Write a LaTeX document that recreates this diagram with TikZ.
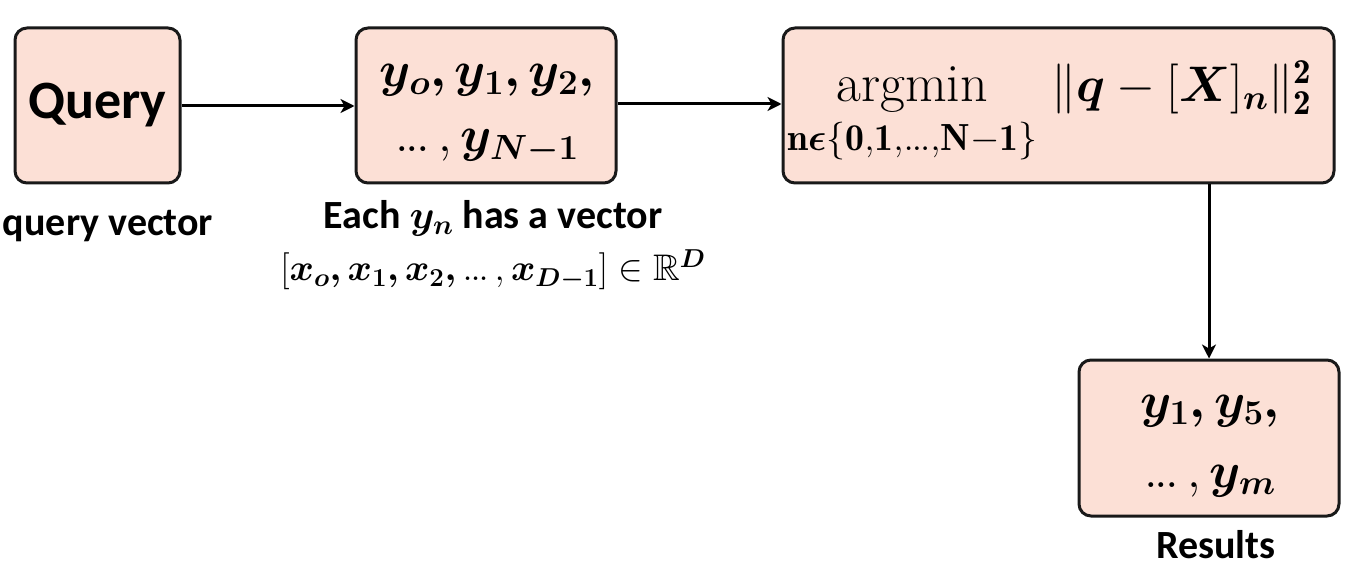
\RequirePackage{fix-cm}
\documentclass[tikz,border=0pt]{standalone}
\usepackage{amsmath,amssymb,bm}
\DeclareFontFamily{U}{msb}{}
\DeclareFontShape{U}{msb}{m}{n}{<->msbm10}{}
\usepackage{fontspec}
\newfontfamily\carl{Carlito}
\usetikzlibrary{arrows.meta}
\definecolor{boxfill}{RGB}{252,224,214}
\newcommand{\dts}{\mathinner{.\mkern-1mu.\mkern-1mu.}}
\tikzset{
  box/.style={draw=black!90, line width=3pt, rounded corners=12pt, fill=boxfill, inner sep=0pt, align=center},
  conn/.style={line width=3pt, -{Stealth[length=14pt,width=14pt,inset=4pt]}},
  lbl/.style={inner sep=0pt, align=center, font=\carl\bfseries\fontsize{40}{48}\selectfont}
}
\begin{document}
\begin{tikzpicture}[x=1pt,y=-1pt]
\useasboundingbox (0,0) rectangle (1353,575);
\node[box, minimum width=165pt, minimum height=155pt] (q) at (97.5,105.5)
  {\carl\bfseries\fontsize{54}{60}\selectfont Query};
\node[box, minimum width=260pt, minimum height=155pt] (y) at (486,105.5) {};
\node[inner sep=0pt, anchor=base, font=\fontsize{50}{60}\selectfont] (y1) at (487,87)
  {$\bm{y_o, y_1, y_2,}$};
\node[inner sep=0pt, anchor=base, font=\fontsize{50}{60}\selectfont] (y2) at (487,152)
  {$\dts,\bm{y_{N-1}}$};
\node[box, minimum width=551pt, minimum height=155pt] (a) at (1058.5,105.5) {};
\node[inner sep=0pt, anchor=base west, font=\fontsize{54}{60}\selectfont] (f) at (787,102)
  {$\displaystyle\operatorname*{argmin}_{\mathbf{n\bm{\epsilon}\{0,1,\dts,N-1\}}}$};
\node[inner sep=0pt, anchor=base west, font=\fontsize{50}{60}\selectfont] (g) at (f.base east)
  {$\;\|\bm{q}-[\bm{X}]_{\bm{n}}\|_{\mathbf{2}}^{\mathbf{2}}$};
\node[box, minimum width=260pt, minimum height=156pt] (r) at (1209,438) {};
\node[inner sep=0pt, anchor=base, font=\fontsize{50}{60}\selectfont] (r1) at (1210,417)
  {$\bm{y_1, y_5,}$};
\node[inner sep=0pt, anchor=base, font=\fontsize{50}{60}\selectfont] (r2) at (1210,487)
  {$\dts,\bm{y_m}$};
\node[lbl] (ql) at (108,226) {query vector};
\node[lbl] (yl) at (493,218) {Each $\bm{y_n}$ has a vector};
\node[inner sep=0pt, font=\fontsize{37}{44}\selectfont] (yl2) at (493,270)
  {$[\bm{x_o, x_1, x_2,} \dts, \bm{x_{D-1}}] \in \mathbb{R}^{\bm{D}}$};
\node[lbl] (rl) at (1216,545) {Results};
\draw[conn] (q.east |- 0,106) -- (y.west |- 0,106);
\draw[conn] (y.east |- 0,104) -- (a.west |- 0,104);
\draw[conn] (a.south -| r.north) -- (r.north);
\end{tikzpicture}
\end{document}
